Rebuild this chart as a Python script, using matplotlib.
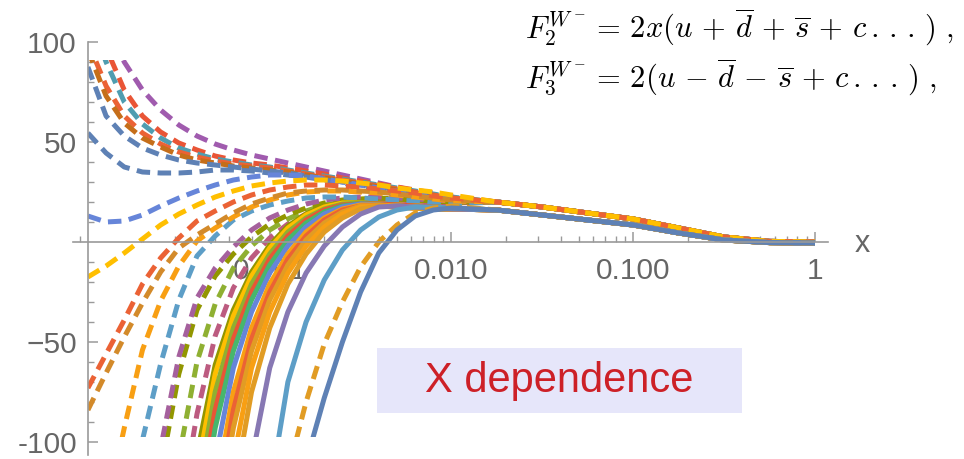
import numpy as np
import matplotlib
matplotlib.use("Agg")
import matplotlib.pyplot as plt
from matplotlib.patches import Rectangle
from matplotlib.ticker import FixedLocator, FixedFormatter, LogLocator, NullFormatter

plt.rcParams["mathtext.fontset"] = "cm"
plt.rcParams["font.family"] = ["Liberation Sans", "DejaVu Sans"]

## data: log10(x) grid for the small-x part, shared large-x tails
head_logx = [-4.0, -3.9, -3.8, -3.7, -3.6, -3.5, -3.4, -3.3, -3.2, -3.1, -3.0,
             -2.9, -2.8, -2.7, -2.6, -2.5, -2.4, -2.3, -2.2, -2.1, -2.0]
tail_logx = [-1.75, -1.5, -1.25, -1.0, -0.75, -0.5, -0.25, 0.0]
tail_hi = [20, 17.5, 14.5, 11.5, 7, 2.5, 0.3, 0]
tail_lo = [16, 13.5, 11, 8.5, 4.5, 1, -0.3, -0.5]

# dashed curves rising at small x
up_blue = [87.5, 63, 53, 47, 43.5, 41, 39.5, 38.5, 37.5, 36.5, 35.5, 34.5, 33, 31.5, 30, 28.5, 27, 25.5, 24, 22.5, 21]
up_brown = [96, 73, 59.5, 52, 47.5, 43.5, 41, 39.5, 38, 37, 36, 35, 33.5, 32, 30.5, 29, 27.5, 26, 24.5, 23, 21.5]
up_red = [100, 78, 63, 54.5, 49, 45, 42.5, 40.5, 39, 38, 37, 35.5, 34, 32.5, 31, 29.5, 28, 26.5, 25, 23.5, 22]
up_cyan = [115, 90, 70, 59, 52, 47, 44, 41.5, 40, 38.5, 37.5, 36, 34.5, 33, 31.5, 30, 28.5, 27, 25.5, 24, 22.5]
up_red2 = [125, 97, 76, 63, 55, 49.5, 46, 43, 41, 39.5, 38.5, 37, 35.5, 34, 32, 30.5, 29, 27.5, 26, 24.5, 23]
up_purple = [None, 110, 90, 76, 66, 58.5, 53, 49, 46, 43.5, 41.5, 39.5, 37.5, 35.5, 33.5, 31.5, 29.5, 27.5, 25.5, 23.5, 22]
dip_blue = [54.5, 44.5, 37.5, 35, 34.5, 34.5, 35, 36, 36, 35.5, 34.5, 33.5, 32.5, 31, 29.5, 28, 26.5, 25, 23.5, 22, 21]
dip_blue2 = [13, 10, 10.5, 13.5, 18, 22, 25.5, 28.5, 31, 32.5, 33.5, 33.5, 33, 31.5, 30, 28.5, 27, 25.5, 24, 22.5, 21]

# dashed curves falling at small x
dn_yellow = [-17.5, -12, -5.5, 1.5, 8.5, 14, 18.5, 22.5, 25.5, 28, 29.5, 30.5, 31, 31, 30.5, 29.5, 28.5, 27, 26, 25, 23.5]
dn_red = [-73, -56, -39, -21, -8, 2, 10.5, 15.5, 20, 23.5, 26, 27.5, 28.5, 28.5, 28, 27.5, 26.5, 25.5, 24.5, 23, 22]
dn_brown = [-84, -65.5, -47.5, -30.5, -15, -3, 3.5, 9, 14.5, 19, 22, 24.5, 25.5, 26, 26, 25.5, 25, 24, 23, 22, 21]
dn_orange = [None, -135, -93, -54, -29.5, -12, 0.5, 7, 12.5, 17.5, 21, 23.5, 25, 25.5, 25.5, 25, 24.5, 23.5, 22.5, 21.5, 20.5]
dn_cyan = [None, None, -140, -99, -61, -29, -7, 3, 11, 15.5, 18.5, 20.5, 22, 22.5, 22.5, 22, 21.5, 21, 20.5, 19.5, 19]
dn_pink = [None, None, None, -150, -103, -57.5, -28, -13, -2.5, 6, 12, 16, 19, 21, 22, 22.5, 22.5, 22, 21.5, 21, 20.5]
dn_olive = [None, None, None, -165, -115, -66, -34, -17, -6, 2.5, 9, 13.5, 17, 19.5, 21, 21.5, 22, 21.5, 21, 20.5, 20]
dn_green = [None, None, None, None, -160, -108, -60, -31, -13, -2, 6, 11.5, 15.5, 18.5, 20, 21, 21.5, 21.5, 21, 20.5, 20]
dn_pink2 = [None, None, None, None, None, -140, -86, -47, -23, -8, 2, 9, 14, 17, 19, 20.5, 21, 21, 20.5, 20, 19.5]
dn_orange2 = [None] * 11 + [-115, -80, -51, -30, -12.5, 0, 8.5, 14.5, 17, 18]

# solid curves
s_olive = [None] * 5 + [-162, -106, -61.5, -34, -15, -1.5, 8, 14, 18, 19.5, 19.5, 19, 18.5, 18, 17.5, 17]
s_yellow = [None] * 5 + [-170, -115, -66, -37, -17, -3, 7, 13.5, 17.5, 19.5, 19.5, 19, 18.5, 18, 17.5, 17]
s_green = [None] * 6 + [-126, -75, -43, -21, -6, 5, 12, 16.5, 19, 19.5, 19, 18.5, 18, 17.5, 17]
s_red = [None] * 6 + [-137, -84, -48.5, -25, -8.5, 3, 11, 16, 18.5, 19, 19, 18.5, 18, 17.5, 17]
s_teal = [None] * 6 + [-148, -93, -54.5, -29, -11.5, 1, 9.5, 15, 18, 19, 18.5, 18, 17.5, 17, 16.5]
s_blue = [None] * 7 + [-109, -63, -35, -15.5, -2, 7.5, 14, 17.5, 19, 18.5, 18, 17.5, 17, 16.5]
s_orange = [None] * 7 + [-126, -75, -43, -21, -6, 5, 12, 16.5, 18.5, 18.5, 18, 17.5, 17, 16.5]
s_red2 = [None] * 7 + [-137, -84, -48.5, -25, -8.5, 3, 11, 16, 18, 18, 17.5, 17, 16.5, 16.5]
s_orange2 = [None] * 7 + [-148, -93, -54.5, -29, -11.5, 1, 9.5, 15, 18, 18, 17.5, 17, 16.5, 16.5]
s_orange3 = [None] * 8 + [-109, -63, -35, -15.5, -2, 7.5, 14, 17.5, 18, 17.5, 17, 16.5, 16.5]
s_orange4 = [None] * 8 + [-126, -75, -43, -21, -6, 5, 12, 16.5, 18, 17.5, 17, 16.5, 16.5]
s_purple = [None] * 9 + [-109, -63, -35, -15.5, -2, 7.5, 14, 17.5, 18, 17.5, 17, 16.5]
s_cyan = [None] * 10 + [-125, -70, -40, -19, -4, 6, 12.5, 16, 17.5, 17.5, 17]
s_blue2 = [None] * 12 + [-110, -78, -50, -25, -5.5, 6, 13, 16, 17]

# (values, colour, dashed, tail)
curves = [
    (up_purple, "#A05BAE", True, tail_hi),
    (up_red2, "#E95536", True, tail_hi),
    (up_cyan, "#4F9DB0", True, tail_hi),
    (up_red, "#EB6235", True, tail_hi),
    (up_brown, "#C56E1A", True, tail_hi),
    (up_blue, "#5E81B5", True, tail_hi),
    (dip_blue, "#5E81B5", True, tail_hi),
    (dip_blue2, "#6685D9", True, tail_hi),
    (dn_pink2, "#BC5B80", True, tail_hi),
    (dn_green, "#8FB032", True, tail_hi),
    (dn_olive, "#929600", True, tail_hi),
    (dn_pink, "#A5609D", True, tail_hi),
    (dn_cyan, "#5D9EC7", True, tail_hi),
    (dn_orange, "#F89F13", True, tail_hi),
    (dn_brown, "#D38A2A", True, tail_hi),
    (dn_red, "#EB6235", True, tail_hi),
    (dn_yellow, "#FFBF00", True, tail_hi),
    (s_olive, "#929600", False, tail_lo),
    (s_yellow, "#FFBF00", False, tail_lo),
    (s_green, "#8FB032", False, tail_lo),
    (s_red, "#E95536", False, tail_lo),
    (s_teal, "#47B66D", False, tail_lo),
    (s_blue, "#6685D9", False, tail_lo),
    (s_orange, "#F89F13", False, tail_lo),
    (s_red2, "#EB6235", False, tail_lo),
    (s_orange2, "#E19C24", False, tail_lo),
    (s_orange3, "#F89F13", False, tail_lo),
    (s_orange4, "#E19C24", False, tail_lo),
    (s_purple, "#8778B3", False, tail_lo),
    (s_cyan, "#5D9EC7", False, tail_lo),
    (dn_orange2, "#E19C24", True, tail_lo),
    (s_blue2, "#5E81B5", False, tail_lo),
]

fig = plt.figure(figsize=(9.64, 4.59), dpi=100)
ax = fig.add_axes([73 / 964, 4 / 459, 755 / 964, 413 / 459])
ax.set_xscale("log")
ax.set_xlim(10 ** -4.082, 10 ** 0.071)
ax.set_ylim(-106.5, 100)

clip = Rectangle((1e-4, -97.5), 1 - 1e-4, 188.5, transform=ax.transData,
                 facecolor="none", edgecolor="none")
ax.add_patch(clip)

logx = np.array(head_logx + tail_logx)
for vals, color, dashed, tail in curves:
    y = np.array(vals + tail, dtype=float)
    line, = ax.plot(10 ** logx, y, color=color, lw=3.6, solid_capstyle="butt",
                    solid_joinstyle="round")
    if dashed:
        line.set_dashes([2.7, 1.5])
    line.set_clip_path(clip)

axis_gray = "#9A9A9A"
label_gray = "#666666"
for side in ("top", "right"):
    ax.spines[side].set_visible(False)
ax.spines["left"].set_position(("data", 1e-4))
ax.spines["bottom"].set_position(("data", 0))
for side in ("left", "bottom"):
    ax.spines[side].set_color(axis_gray)
    ax.spines[side].set_linewidth(1.2)

ax.xaxis.set_major_locator(FixedLocator([1e-3, 1e-2, 1e-1, 1]))
ax.xaxis.set_major_formatter(FixedFormatter(["0.001", "0.010", "0.100", "1"]))
ax.xaxis.set_minor_locator(LogLocator(base=10, subs=range(2, 10)))
ax.xaxis.set_minor_formatter(NullFormatter())
ax.yaxis.set_major_locator(FixedLocator([-100, -50, 50, 100]))
ax.yaxis.set_major_formatter(FixedFormatter(["-100", "\u221250", "50", "100"]))
ax.yaxis.set_minor_locator(FixedLocator([v for v in range(-90, 100, 10) if v not in (-50, 0, 50)]))

ax.tick_params(axis="x", which="major", direction="in", length=7, width=1.1, color=axis_gray,
               labelsize=21.5, labelcolor=label_gray, pad=11)
ax.tick_params(axis="x", which="minor", direction="in", length=4, width=1, color=axis_gray)
ax.tick_params(axis="y", which="major", direction="in", length=7, width=1.1, color=axis_gray,
               labelsize=21.5, labelcolor=label_gray, pad=8)
ax.tick_params(axis="y", which="minor", direction="in", length=4, width=1, color=axis_gray)

fig.text(862 / 964, 1 - 244 / 459, "x", fontsize=22, color=label_gray, ha="center", va="center")

# structure functions
fs = 22
fig.text(525 / 964, 1 - 38 / 459, r"$F_2^{W^-}$", fontsize=fs, ha="left", va="baseline")
fig.text(591 / 964, 1 - 38 / 459,
         r"$=\,2x(u\,+\,\overline{d}\,+\,\overline{s}\,+\,c\,.\,.\,.\,)\ ,$",
         fontsize=fs, ha="left", va="baseline")
fig.text(525 / 964, 1 - 88 / 459, r"$F_3^{W^-}$", fontsize=fs, ha="left", va="baseline")
fig.text(591 / 964, 1 - 88 / 459,
         r"$=\,2(u\,-\,\overline{d}\,-\,\overline{s}\,+\,c\,.\,.\,.\,)\ ,$",
         fontsize=fs, ha="left", va="baseline")

# label box
fig.add_artist(Rectangle((377 / 964, 1 - 413 / 459), 365 / 964, 65 / 459, transform=fig.transFigure,
                         facecolor="#E6E6FA", edgecolor="none"))
fig.text(559 / 964, 1 - 381 / 459, "X dependence", fontsize=30, color="#CD2027",
         ha="center", va="center")

fig.savefig("out.png", dpi=100)
